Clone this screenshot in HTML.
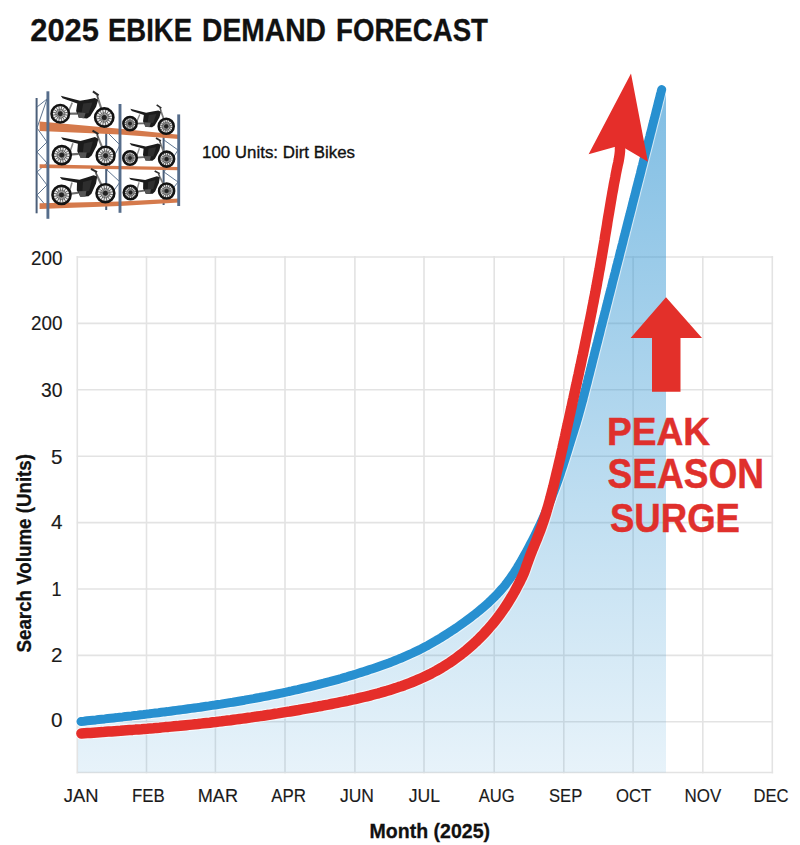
<!DOCTYPE html>
<html><head><meta charset="utf-8"><title>2025 EBIKE DEMAND FORECAST</title>
<style>
html,body{margin:0;padding:0;background:#fff;}
body{width:800px;height:845px;overflow:hidden;position:relative;font-family:"Liberation Sans",sans-serif;}
svg{position:absolute;left:0;top:0;}
text{font-family:"Liberation Sans",sans-serif;}
.yl{font-size:19px;fill:#1a1a1a;}
.xl{font-size:18px;fill:#1a1a1a;}
</style></head>
<body>
<svg width="800" height="845" viewBox="0 0 800 845">
<defs>
<linearGradient id="fg" gradientUnits="userSpaceOnUse" x1="0" y1="88" x2="0" y2="772">
<stop offset="0" stop-color="rgb(40,144,208)" stop-opacity="0.59"/>
<stop offset="1" stop-color="rgb(40,144,208)" stop-opacity="0.11"/>
</linearGradient>
</defs>
<text x="64.62" y="41.20" text-anchor="middle" font-weight="bold" font-size="31.80" fill="#111" stroke="#111" stroke-width="0.30" textLength="68.74" lengthAdjust="spacingAndGlyphs">2025</text>
<text x="150.00" y="41.20" text-anchor="middle" font-weight="bold" font-size="31.80" fill="#111" stroke="#111" stroke-width="0.30" textLength="84.00" lengthAdjust="spacingAndGlyphs">EBIKE</text>
<text x="264.00" y="41.20" text-anchor="middle" font-weight="bold" font-size="31.80" fill="#111" stroke="#111" stroke-width="0.30" textLength="123.99" lengthAdjust="spacingAndGlyphs">DEMAND</text>
<text x="412.00" y="41.20" text-anchor="middle" font-weight="bold" font-size="31.80" fill="#111" stroke="#111" stroke-width="0.30" textLength="152.00" lengthAdjust="spacingAndGlyphs">FORECAST</text>
<g stroke="#4b5f7a" stroke-width="2" stroke-linecap="butt">
<line x1="36.6" y1="98" x2="36.6" y2="213.3"/>
<line x1="106.2" y1="112" x2="106.2" y2="210"/>
<line x1="163.6" y1="120" x2="163.6" y2="205"/>
</g>
<g stroke="#5f7590" stroke-width="1" fill="none">
<polyline points="37,107 47,99 37,128 47,142 37,152 47,163 37,172 47,185 37,195 47,207"/>
<polyline points="107,132 120,145 107,170 120,182 107,200"/>
<polyline points="164,140 178,150 164,172 178,182 164,200"/>
</g>
<polygon points="39.6,121.5 120,128.8 179,134.8 179,139 120,134.5 39.6,131" fill="#d57a4c"/>
<polygon points="39.6,164.3 120,166 179,167 179,170.2 120,169.2 39.6,168" fill="#d57a4c"/>
<polygon points="39.6,203.3 120,201.6 179,198.6 179,202.5 120,206 39.6,209" fill="#d57a4c"/>
<g transform="translate(60.25,113.75) rotate(4.87) scale(1.004)"><path d="M0,0 L17,-1.5" stroke="#6a6a6a" stroke-width="2.2"/><path d="M11,-12 L8,-3" stroke="#8a8a8a" stroke-width="1.6"/><path d="M36.5,-17.5 L44,0" stroke="#7a7a7a" stroke-width="2.1"/><path d="M35,-21.5 L36.5,-17.5" stroke="#555" stroke-width="1.8"/><path d="M30.5,-25 L36.5,-21.5" stroke="#2a2a2a" stroke-width="2"/></g><circle cx="60.25" cy="113.75" r="8.70" fill="#ececec" stroke="#121212" stroke-width="2.6"/><path d="M52.80,112.24L67.70,115.26 M53.95,109.50L66.55,118.00 M56.05,107.42L64.45,120.08 M58.79,106.29L61.71,121.21 M61.76,106.30L58.74,121.20 M64.50,107.45L56.00,120.05 M66.58,109.55L53.92,117.95 M67.71,112.29L52.79,115.21" stroke="#3a3a3a" stroke-width="0.75"/><circle cx="60.25" cy="113.75" r="4.50" fill="none" stroke="#666" stroke-width="0.9"/><circle cx="60.25" cy="113.75" r="2.40" fill="#222"/><circle cx="104.25" cy="117.50" r="9.10" fill="#ececec" stroke="#121212" stroke-width="2.6"/><path d="M96.41,115.91L112.09,119.09 M97.61,113.03L110.89,121.97 M99.83,110.83L108.67,124.17 M102.72,109.65L105.78,125.35 M105.84,109.66L102.66,125.34 M108.72,110.86L99.78,124.14 M110.92,113.08L97.58,121.92 M112.10,115.97L96.40,119.03" stroke="#3a3a3a" stroke-width="0.75"/><circle cx="104.25" cy="117.50" r="4.68" fill="none" stroke="#666" stroke-width="0.9"/><circle cx="104.25" cy="117.50" r="2.50" fill="#222"/><g transform="translate(60.25,113.75) rotate(4.87) scale(1.004)"><path d="M-1,-18 L18.5,-14.5 L26,-16.5 L33,-18.5 L36.5,-17 L35,-10 L30,0 L27,2.5 L19,2.5 L15.5,-4 L16,-11.5 L1,-15.5 Z" fill="#1b1b1b"/><path d="M22,-12 L31,-14 L28,-3 L21,-2 Z" fill="#2e2e2e"/><path d="M17,-3 L25,-3 L24,2.5 L18.5,2.5 Z" fill="#555"/></g>
<g transform="translate(130.00,123.60) rotate(4.27) scale(0.825)"><path d="M0,0 L17,-1.5" stroke="#6a6a6a" stroke-width="2.2"/><path d="M11,-12 L8,-3" stroke="#8a8a8a" stroke-width="1.6"/><path d="M36.5,-17.5 L44,0" stroke="#7a7a7a" stroke-width="2.1"/><path d="M35,-21.5 L36.5,-17.5" stroke="#555" stroke-width="1.8"/><path d="M30.5,-25 L36.5,-21.5" stroke="#2a2a2a" stroke-width="2"/></g><circle cx="130.00" cy="123.60" r="6.60" fill="#ececec" stroke="#121212" stroke-width="2.6"/><path d="M124.61,122.51L135.39,124.69 M125.44,120.53L134.56,126.67 M126.96,119.02L133.04,128.18 M128.95,118.20L131.05,129.00 M131.09,118.21L128.91,128.99 M133.07,119.04L126.93,128.16 M134.58,120.56L125.42,126.64 M135.40,122.55L124.60,124.65" stroke="#3a3a3a" stroke-width="0.75"/><circle cx="130.00" cy="123.60" r="3.56" fill="none" stroke="#666" stroke-width="0.9"/><circle cx="130.00" cy="123.60" r="1.90" fill="#222"/><circle cx="166.20" cy="126.30" r="7.50" fill="#ececec" stroke="#121212" stroke-width="2.6"/><path d="M159.93,125.03L172.47,127.57 M160.89,122.72L171.51,129.88 M162.66,120.97L169.74,131.63 M164.97,120.02L167.43,132.58 M167.47,120.03L164.93,132.57 M169.78,120.99L162.62,131.61 M171.53,122.76L160.87,129.84 M172.48,125.07L159.92,127.53" stroke="#3a3a3a" stroke-width="0.75"/><circle cx="166.20" cy="126.30" r="3.96" fill="none" stroke="#666" stroke-width="0.9"/><circle cx="166.20" cy="126.30" r="2.11" fill="#222"/><g transform="translate(130.00,123.60) rotate(4.27) scale(0.825)"><path d="M-1,-18 L18.5,-14.5 L26,-16.5 L33,-18.5 L36.5,-17 L35,-10 L30,0 L27,2.5 L19,2.5 L15.5,-4 L16,-11.5 L1,-15.5 Z" fill="#1b1b1b"/><path d="M22,-12 L31,-14 L28,-3 L21,-2 Z" fill="#2e2e2e"/><path d="M17,-3 L25,-3 L24,2.5 L18.5,2.5 Z" fill="#555"/></g>
<g transform="translate(61.80,155.10) rotate(0.78) scale(0.996)"><path d="M0,0 L17,-1.5" stroke="#6a6a6a" stroke-width="2.2"/><path d="M11,-12 L8,-3" stroke="#8a8a8a" stroke-width="1.6"/><path d="M36.5,-17.5 L44,0" stroke="#7a7a7a" stroke-width="2.1"/><path d="M35,-21.5 L36.5,-17.5" stroke="#555" stroke-width="1.8"/><path d="M30.5,-25 L36.5,-21.5" stroke="#2a2a2a" stroke-width="2"/></g><circle cx="61.80" cy="155.10" r="9.00" fill="#ececec" stroke="#121212" stroke-width="2.6"/><path d="M54.06,153.53L69.54,156.67 M55.25,150.69L68.35,159.51 M57.44,148.52L66.16,161.68 M60.29,147.35L63.31,162.85 M63.37,147.36L60.23,162.84 M66.21,148.55L57.39,161.65 M68.38,150.74L55.22,159.46 M69.55,153.59L54.05,156.61" stroke="#3a3a3a" stroke-width="0.75"/><circle cx="61.80" cy="155.10" r="4.64" fill="none" stroke="#666" stroke-width="0.9"/><circle cx="61.80" cy="155.10" r="2.47" fill="#222"/><circle cx="105.60" cy="155.70" r="8.90" fill="#ececec" stroke="#121212" stroke-width="2.6"/><path d="M97.96,154.15L113.24,157.25 M99.13,151.34L112.07,160.06 M101.29,149.20L109.91,162.20 M104.11,148.04L107.09,163.36 M107.15,148.06L104.05,163.34 M109.96,149.23L101.24,162.17 M112.10,151.39L99.10,160.01 M113.26,154.21L97.94,157.19" stroke="#3a3a3a" stroke-width="0.75"/><circle cx="105.60" cy="155.70" r="4.59" fill="none" stroke="#666" stroke-width="0.9"/><circle cx="105.60" cy="155.70" r="2.45" fill="#222"/><g transform="translate(61.80,155.10) rotate(0.78) scale(0.996)"><path d="M-1,-18 L18.5,-14.5 L26,-16.5 L33,-18.5 L36.5,-17 L35,-10 L30,0 L27,2.5 L19,2.5 L15.5,-4 L16,-11.5 L1,-15.5 Z" fill="#1b1b1b"/><path d="M22,-12 L31,-14 L28,-3 L21,-2 Z" fill="#2e2e2e"/><path d="M17,-3 L25,-3 L24,2.5 L18.5,2.5 Z" fill="#555"/></g>
<g transform="translate(130.00,158.00) rotate(1.72) scale(0.832)"><path d="M0,0 L17,-1.5" stroke="#6a6a6a" stroke-width="2.2"/><path d="M11,-12 L8,-3" stroke="#8a8a8a" stroke-width="1.6"/><path d="M36.5,-17.5 L44,0" stroke="#7a7a7a" stroke-width="2.1"/><path d="M35,-21.5 L36.5,-17.5" stroke="#555" stroke-width="1.8"/><path d="M30.5,-25 L36.5,-21.5" stroke="#2a2a2a" stroke-width="2"/></g><circle cx="130.00" cy="158.00" r="6.70" fill="#ececec" stroke="#121212" stroke-width="2.6"/><path d="M124.51,156.89L135.49,159.11 M125.36,154.87L134.64,161.13 M126.91,153.33L133.09,162.67 M128.93,152.50L131.07,163.50 M131.11,152.51L128.89,163.49 M133.13,153.36L126.87,162.64 M134.67,154.91L125.33,161.09 M135.50,156.93L124.50,159.07" stroke="#3a3a3a" stroke-width="0.75"/><circle cx="130.00" cy="158.00" r="3.60" fill="none" stroke="#666" stroke-width="0.9"/><circle cx="130.00" cy="158.00" r="1.92" fill="#222"/><circle cx="166.60" cy="159.10" r="7.50" fill="#ececec" stroke="#121212" stroke-width="2.6"/><path d="M160.33,157.83L172.87,160.37 M161.29,155.52L171.91,162.68 M163.06,153.77L170.14,164.43 M165.37,152.82L167.83,165.38 M167.87,152.83L165.33,165.37 M170.18,153.79L163.02,164.41 M171.93,155.56L161.27,162.64 M172.88,157.87L160.32,160.33" stroke="#3a3a3a" stroke-width="0.75"/><circle cx="166.60" cy="159.10" r="3.96" fill="none" stroke="#666" stroke-width="0.9"/><circle cx="166.60" cy="159.10" r="2.11" fill="#222"/><g transform="translate(130.00,158.00) rotate(1.72) scale(0.832)"><path d="M-1,-18 L18.5,-14.5 L26,-16.5 L33,-18.5 L36.5,-17 L35,-10 L30,0 L27,2.5 L19,2.5 L15.5,-4 L16,-11.5 L1,-15.5 Z" fill="#1b1b1b"/><path d="M22,-12 L31,-14 L28,-3 L21,-2 Z" fill="#2e2e2e"/><path d="M17,-3 L25,-3 L24,2.5 L18.5,2.5 Z" fill="#555"/></g>
<g transform="translate(61.50,194.90) rotate(-2.22) scale(0.998)"><path d="M0,0 L17,-1.5" stroke="#6a6a6a" stroke-width="2.2"/><path d="M11,-12 L8,-3" stroke="#8a8a8a" stroke-width="1.6"/><path d="M36.5,-17.5 L44,0" stroke="#7a7a7a" stroke-width="2.1"/><path d="M35,-21.5 L36.5,-17.5" stroke="#555" stroke-width="1.8"/><path d="M30.5,-25 L36.5,-21.5" stroke="#2a2a2a" stroke-width="2"/></g><circle cx="61.50" cy="194.90" r="9.00" fill="#ececec" stroke="#121212" stroke-width="2.6"/><path d="M53.76,193.33L69.24,196.47 M54.95,190.49L68.05,199.31 M57.14,188.32L65.86,201.48 M59.99,187.15L63.01,202.65 M63.07,187.16L59.93,202.64 M65.91,188.35L57.09,201.45 M68.08,190.54L54.92,199.26 M69.25,193.39L53.75,196.41" stroke="#3a3a3a" stroke-width="0.75"/><circle cx="61.50" cy="194.90" r="4.64" fill="none" stroke="#666" stroke-width="0.9"/><circle cx="61.50" cy="194.90" r="2.47" fill="#222"/><circle cx="105.40" cy="193.20" r="8.90" fill="#ececec" stroke="#121212" stroke-width="2.6"/><path d="M97.76,191.65L113.04,194.75 M98.93,188.84L111.87,197.56 M101.09,186.70L109.71,199.70 M103.91,185.54L106.89,200.86 M106.95,185.56L103.85,200.84 M109.76,186.73L101.04,199.67 M111.90,188.89L98.90,197.51 M113.06,191.71L97.74,194.69" stroke="#3a3a3a" stroke-width="0.75"/><circle cx="105.40" cy="193.20" r="4.59" fill="none" stroke="#666" stroke-width="0.9"/><circle cx="105.40" cy="193.20" r="2.45" fill="#222"/><g transform="translate(61.50,194.90) rotate(-2.22) scale(0.998)"><path d="M-1,-18 L18.5,-14.5 L26,-16.5 L33,-18.5 L36.5,-17 L35,-10 L30,0 L27,2.5 L19,2.5 L15.5,-4 L16,-11.5 L1,-15.5 Z" fill="#1b1b1b"/><path d="M22,-12 L31,-14 L28,-3 L21,-2 Z" fill="#2e2e2e"/><path d="M17,-3 L25,-3 L24,2.5 L18.5,2.5 Z" fill="#555"/></g>
<g transform="translate(130.50,192.50) rotate(-2.38) scale(0.821)"><path d="M0,0 L17,-1.5" stroke="#6a6a6a" stroke-width="2.2"/><path d="M11,-12 L8,-3" stroke="#8a8a8a" stroke-width="1.6"/><path d="M36.5,-17.5 L44,0" stroke="#7a7a7a" stroke-width="2.1"/><path d="M35,-21.5 L36.5,-17.5" stroke="#555" stroke-width="1.8"/><path d="M30.5,-25 L36.5,-21.5" stroke="#2a2a2a" stroke-width="2"/></g><circle cx="130.50" cy="192.50" r="6.70" fill="#ececec" stroke="#121212" stroke-width="2.6"/><path d="M125.01,191.39L135.99,193.61 M125.86,189.37L135.14,195.63 M127.41,187.83L133.59,197.17 M129.43,187.00L131.57,198.00 M131.61,187.01L129.39,197.99 M133.63,187.86L127.37,197.14 M135.17,189.41L125.83,195.59 M136.00,191.43L125.00,193.57" stroke="#3a3a3a" stroke-width="0.75"/><circle cx="130.50" cy="192.50" r="3.60" fill="none" stroke="#666" stroke-width="0.9"/><circle cx="130.50" cy="192.50" r="1.92" fill="#222"/><circle cx="166.60" cy="191.00" r="7.50" fill="#ececec" stroke="#121212" stroke-width="2.6"/><path d="M160.33,189.73L172.87,192.27 M161.29,187.42L171.91,194.58 M163.06,185.67L170.14,196.33 M165.37,184.72L167.83,197.28 M167.87,184.73L165.33,197.27 M170.18,185.69L163.02,196.31 M171.93,187.46L161.27,194.54 M172.88,189.77L160.32,192.23" stroke="#3a3a3a" stroke-width="0.75"/><circle cx="166.60" cy="191.00" r="3.96" fill="none" stroke="#666" stroke-width="0.9"/><circle cx="166.60" cy="191.00" r="2.11" fill="#222"/><g transform="translate(130.50,192.50) rotate(-2.38) scale(0.821)"><path d="M-1,-18 L18.5,-14.5 L26,-16.5 L33,-18.5 L36.5,-17 L35,-10 L30,0 L27,2.5 L19,2.5 L15.5,-4 L16,-11.5 L1,-15.5 Z" fill="#1b1b1b"/><path d="M22,-12 L31,-14 L28,-3 L21,-2 Z" fill="#2e2e2e"/><path d="M17,-3 L25,-3 L24,2.5 L18.5,2.5 Z" fill="#555"/></g>
<g stroke="#566d8b" stroke-width="2.9" stroke-linecap="butt">
<line x1="47.9" y1="91.3" x2="47.9" y2="218.8"/>
<line x1="120" y1="104" x2="120" y2="212.8"/>
<line x1="178.7" y1="114.4" x2="178.7" y2="206"/>
</g>
<text x="278.50" y="158.43" text-anchor="middle" font-weight="normal" font-size="17.05" fill="#111" stroke="#111" stroke-width="0.35" textLength="152.99" lengthAdjust="spacingAndGlyphs">100 Units: Dirt Bikes</text>
<g stroke="#e3e3e3" stroke-width="1.6" fill="none">
<path d="M77.3,256.1V773.4 M146.5,256.1V773.4 M215.4,256.1V773.4 M285.0,256.1V773.4 M354.9,256.1V773.4 M424.0,256.1V773.4 M494.2,256.1V773.4 M563.8,256.1V773.4 M633.1,256.1V773.4 M702.8,256.1V773.4 M772.3,256.1V773.4 M76.4,257.0H773.2 M76.4,323.4H773.2 M76.4,389.8H773.2 M76.4,456.2H773.2 M76.4,522.6H773.2 M76.4,589.0H773.2 M76.4,655.4H773.2 M76.4,721.8H773.2 M76.4,772.5H773.2"/>
</g>
<path d="M81.0,721.5 L84.0,721.2 L86.9,720.8 L89.9,720.5 L92.9,720.2 L95.9,719.9 L98.8,719.5 L101.8,719.2 L104.8,718.9 L107.8,718.5 L110.7,718.2 L113.7,717.9 L116.7,717.6 L119.7,717.2 L122.7,716.9 L125.6,716.5 L128.6,716.2 L131.6,715.9 L134.6,715.5 L137.6,715.2 L140.6,714.8 L143.5,714.5 L146.5,714.1 L149.5,713.8 L152.5,713.4 L155.5,713.0 L158.4,712.7 L161.4,712.3 L164.4,711.9 L167.4,711.6 L170.4,711.2 L173.3,710.8 L176.3,710.4 L179.3,710.0 L182.3,709.6 L185.3,709.2 L188.2,708.8 L191.2,708.4 L194.2,708.0 L197.2,707.6 L200.1,707.2 L203.1,706.7 L206.1,706.3 L209.1,705.9 L212.0,705.4 L215.0,705.0 L218.0,704.5 L220.9,704.1 L223.9,703.6 L226.9,703.1 L229.8,702.6 L232.8,702.2 L235.8,701.7 L238.7,701.2 L241.7,700.7 L244.6,700.2 L247.6,699.6 L250.6,699.1 L253.5,698.6 L256.5,698.0 L259.4,697.5 L262.4,696.9 L265.3,696.4 L268.2,695.8 L271.2,695.2 L274.1,694.6 L277.1,694.0 L280.0,693.4 L282.9,692.8 L285.9,692.2 L288.8,691.5 L291.7,690.9 L294.7,690.2 L297.6,689.6 L300.5,688.9 L303.4,688.2 L306.3,687.5 L309.3,686.8 L312.2,686.1 L315.1,685.4 L318.0,684.7 L320.9,683.9 L323.8,683.2 L326.7,682.4 L329.6,681.7 L332.5,680.9 L335.4,680.1 L338.3,679.3 L341.1,678.5 L344.0,677.6 L346.9,676.8 L349.8,675.9 L352.6,675.1 L355.5,674.2 L358.4,673.3 L361.2,672.4 L364.1,671.5 L366.9,670.6 L369.8,669.6 L372.6,668.7 L375.5,667.7 L378.3,666.7 L381.1,665.7 L383.9,664.7 L386.8,663.7 L389.6,662.7 L392.4,661.6 L395.1,660.5 L397.9,659.4 L400.7,658.3 L403.4,657.1 L406.2,655.9 L408.9,654.7 L411.6,653.5 L414.4,652.2 L417.1,650.9 L419.8,649.6 L422.4,648.2 L425.1,646.8 L427.8,645.4 L430.4,643.9 L433.0,642.4 L435.6,640.9 L438.2,639.3 L440.8,637.8 L443.4,636.2 L445.9,634.6 L448.4,633.0 L450.9,631.4 L453.4,629.7 L455.9,628.1 L458.4,626.4 L460.8,624.7 L463.3,622.9 L465.7,621.2 L468.1,619.4 L470.5,617.6 L472.8,615.8 L475.2,614.0 L477.5,612.1 L479.8,610.2 L482.1,608.3 L484.4,606.3 L486.7,604.3 L488.9,602.3 L491.1,600.2 L493.3,598.1 L495.4,596.0 L497.5,593.8 L499.5,591.6 L501.5,589.4 L503.5,587.1 L505.4,584.8 L507.2,582.4 L509.0,580.0 L510.7,577.6 L512.4,575.2 L514.1,572.7 L515.7,570.1 L517.3,567.6 L518.8,565.0 L520.4,562.4 L521.9,559.8 L523.3,557.2 L524.8,554.6 L526.3,551.9 L527.7,549.2 L529.1,546.6 L530.5,543.9 L531.9,541.2 L533.3,538.5 L534.7,535.8 L536.0,533.1 L537.3,530.4 L538.6,527.7 L539.9,525.0 L541.2,522.3 L542.4,519.5 L543.6,516.8 L544.8,514.1 L546.0,511.3 L547.2,508.6 L548.3,505.8 L549.4,503.0 L550.6,500.3 L551.7,497.5 L552.7,494.7 L553.8,491.9 L554.8,489.1 L555.9,486.3 L556.9,483.5 L557.9,480.7 L558.9,477.9 L559.9,475.1 L560.8,472.2 L561.7,469.4 L562.7,466.6 L563.6,463.7 L564.5,460.9 L565.4,458.1 L566.3,455.2 L567.2,452.4 L568.1,449.5 L568.9,446.7 L569.8,443.8 L570.7,440.9 L571.6,438.1 L572.5,435.2 L573.4,432.3 L574.3,429.4 L575.2,426.6 L576.1,423.7 L576.9,420.8 L577.8,417.9 L578.6,415.0 L579.4,412.1 L580.2,409.2 L581.0,406.3 L581.8,403.4 L582.6,400.6 L583.3,397.7 L584.1,394.7 L584.8,391.8 L585.6,388.9 L586.3,386.0 L587.1,383.1 L587.8,380.2 L588.5,377.3 L589.3,374.4 L590.0,371.5 L590.7,368.6 L591.5,365.7 L592.2,362.8 L592.9,359.9 L593.7,356.9 L594.4,354.0 L595.1,351.1 L595.9,348.2 L596.6,345.3 L597.4,342.4 L598.1,339.5 L598.8,336.6 L599.6,333.7 L600.3,330.8 L601.0,327.8 L601.8,324.9 L602.5,322.0 L603.2,319.1 L604.0,316.2 L604.7,313.3 L605.5,310.4 L606.2,307.5 L606.9,304.6 L607.7,301.7 L608.4,298.8 L609.1,295.9 L609.9,293.0 L610.6,290.1 L611.4,287.1 L612.1,284.2 L612.8,281.3 L613.6,278.4 L614.3,275.5 L615.1,272.6 L615.8,269.7 L616.5,266.8 L617.3,263.9 L618.0,261.0 L618.8,258.1 L619.5,255.2 L620.2,252.3 L621.0,249.4 L621.7,246.5 L622.5,243.6 L623.2,240.7 L623.9,237.8 L624.7,234.9 L625.4,231.9 L626.2,229.0 L626.9,226.1 L627.6,223.2 L628.4,220.3 L629.1,217.4 L629.9,214.5 L630.6,211.6 L631.4,208.7 L632.1,205.8 L632.8,202.9 L633.6,200.0 L634.3,197.1 L635.1,194.2 L635.8,191.3 L636.5,188.4 L637.3,185.5 L638.0,182.6 L638.8,179.7 L639.5,176.8 L640.3,173.8 L641.0,170.9 L641.7,168.0 L642.5,165.1 L643.2,162.2 L644.0,159.3 L644.7,156.4 L645.4,153.5 L646.2,150.6 L646.9,147.7 L647.7,144.8 L648.4,141.9 L649.1,139.0 L649.9,136.1 L650.6,133.1 L651.4,130.2 L652.1,127.3 L652.8,124.4 L653.6,121.5 L654.3,118.6 L655.1,115.7 L655.8,112.8 L656.5,109.9 L657.3,107.0 L658.0,104.1 L658.7,101.1 L659.5,98.2 L660.2,95.3 L661.0,92.4 L661.7,89.5 L666,95 L666,772.5 L78,772.5 L78,721.5 Z" fill="url(#fg)"/>
<text x="46.75" y="264.78" text-anchor="middle" font-weight="normal" font-size="19.80" fill="#1a1a1a" stroke="#1a1a1a" stroke-width="0.15" textLength="31.51" lengthAdjust="spacingAndGlyphs">200</text>
<text x="46.75" y="330.43" text-anchor="middle" font-weight="normal" font-size="19.80" fill="#1a1a1a" stroke="#1a1a1a" stroke-width="0.15" textLength="31.51" lengthAdjust="spacingAndGlyphs">200</text>
<text x="51.75" y="396.68" text-anchor="middle" font-weight="normal" font-size="19.80" fill="#1a1a1a" stroke="#1a1a1a" stroke-width="0.15" textLength="21.51" lengthAdjust="spacingAndGlyphs">30</text>
<text x="56.75" y="463.58" text-anchor="middle" font-weight="normal" font-size="19.80" fill="#1a1a1a" stroke="#1a1a1a" stroke-width="0.15" textLength="11.50" lengthAdjust="spacingAndGlyphs">5</text>
<text x="56.75" y="529.48" text-anchor="middle" font-weight="normal" font-size="19.80" fill="#1a1a1a" stroke="#1a1a1a" stroke-width="0.15" textLength="11.50" lengthAdjust="spacingAndGlyphs">4</text>
<text x="56.50" y="595.58" text-anchor="middle" font-weight="normal" font-size="19.80" fill="#1a1a1a" stroke="#1a1a1a" stroke-width="0.15" textLength="10.00" lengthAdjust="spacingAndGlyphs">1</text>
<text x="56.75" y="661.78" text-anchor="middle" font-weight="normal" font-size="19.80" fill="#1a1a1a" stroke="#1a1a1a" stroke-width="0.15" textLength="11.50" lengthAdjust="spacingAndGlyphs">2</text>
<text x="56.75" y="727.38" text-anchor="middle" font-weight="normal" font-size="19.80" fill="#1a1a1a" stroke="#1a1a1a" stroke-width="0.15" textLength="11.50" lengthAdjust="spacingAndGlyphs">0</text>
<text x="81.12" y="802.40" text-anchor="middle" font-weight="normal" font-size="18.60" fill="#1a1a1a" stroke="#1a1a1a" stroke-width="0.15" textLength="34.75" lengthAdjust="spacingAndGlyphs">JAN</text>
<text x="148.38" y="802.40" text-anchor="middle" font-weight="normal" font-size="18.60" fill="#1a1a1a" stroke="#1a1a1a" stroke-width="0.15" textLength="32.75" lengthAdjust="spacingAndGlyphs">FEB</text>
<text x="217.88" y="802.40" text-anchor="middle" font-weight="normal" font-size="18.60" fill="#1a1a1a" stroke="#1a1a1a" stroke-width="0.15" textLength="40.25" lengthAdjust="spacingAndGlyphs">MAR</text>
<text x="288.62" y="802.40" text-anchor="middle" font-weight="normal" font-size="18.60" fill="#1a1a1a" stroke="#1a1a1a" stroke-width="0.15" textLength="34.75" lengthAdjust="spacingAndGlyphs">APR</text>
<text x="357.00" y="802.40" text-anchor="middle" font-weight="normal" font-size="18.60" fill="#1a1a1a" stroke="#1a1a1a" stroke-width="0.15" textLength="34.01" lengthAdjust="spacingAndGlyphs">JUN</text>
<text x="424.38" y="802.40" text-anchor="middle" font-weight="normal" font-size="18.60" fill="#1a1a1a" stroke="#1a1a1a" stroke-width="0.15" textLength="31.26" lengthAdjust="spacingAndGlyphs">JUL</text>
<text x="496.75" y="802.40" text-anchor="middle" font-weight="normal" font-size="18.60" fill="#1a1a1a" stroke="#1a1a1a" stroke-width="0.15" textLength="36.00" lengthAdjust="spacingAndGlyphs">AUG</text>
<text x="565.62" y="802.40" text-anchor="middle" font-weight="normal" font-size="18.60" fill="#1a1a1a" stroke="#1a1a1a" stroke-width="0.15" textLength="33.25" lengthAdjust="spacingAndGlyphs">SEP</text>
<text x="633.62" y="802.40" text-anchor="middle" font-weight="normal" font-size="18.60" fill="#1a1a1a" stroke="#1a1a1a" stroke-width="0.15" textLength="35.25" lengthAdjust="spacingAndGlyphs">OCT</text>
<text x="702.88" y="802.40" text-anchor="middle" font-weight="normal" font-size="18.60" fill="#1a1a1a" stroke="#1a1a1a" stroke-width="0.15" textLength="36.75" lengthAdjust="spacingAndGlyphs">NOV</text>
<text x="771.00" y="802.40" text-anchor="middle" font-weight="normal" font-size="18.60" fill="#1a1a1a" stroke="#1a1a1a" stroke-width="0.15" textLength="35.01" lengthAdjust="spacingAndGlyphs">DEC</text>
<text transform="translate(31.30,553.25) rotate(-90)" text-anchor="middle" font-weight="bold" font-size="19.39" fill="#111" stroke="#111" stroke-width="0.30" textLength="198.50" lengthAdjust="spacingAndGlyphs">Search Volume (Units)</text>
<text x="429.75" y="838.10" text-anchor="middle" font-weight="bold" font-size="19.93" fill="#111" stroke="#111" stroke-width="0.30" textLength="120.50" lengthAdjust="spacingAndGlyphs">Month (2025)</text>
<path d="M81.0,721.5 L84.0,721.2 L86.9,720.8 L89.9,720.5 L92.9,720.2 L95.9,719.9 L98.8,719.5 L101.8,719.2 L104.8,718.9 L107.8,718.5 L110.7,718.2 L113.7,717.9 L116.7,717.6 L119.7,717.2 L122.7,716.9 L125.6,716.5 L128.6,716.2 L131.6,715.9 L134.6,715.5 L137.6,715.2 L140.6,714.8 L143.5,714.5 L146.5,714.1 L149.5,713.8 L152.5,713.4 L155.5,713.0 L158.4,712.7 L161.4,712.3 L164.4,711.9 L167.4,711.6 L170.4,711.2 L173.3,710.8 L176.3,710.4 L179.3,710.0 L182.3,709.6 L185.3,709.2 L188.2,708.8 L191.2,708.4 L194.2,708.0 L197.2,707.6 L200.1,707.2 L203.1,706.7 L206.1,706.3 L209.1,705.9 L212.0,705.4 L215.0,705.0 L218.0,704.5 L220.9,704.1 L223.9,703.6 L226.9,703.1 L229.8,702.6 L232.8,702.2 L235.8,701.7 L238.7,701.2 L241.7,700.7 L244.6,700.2 L247.6,699.6 L250.6,699.1 L253.5,698.6 L256.5,698.0 L259.4,697.5 L262.4,696.9 L265.3,696.4 L268.2,695.8 L271.2,695.2 L274.1,694.6 L277.1,694.0 L280.0,693.4 L282.9,692.8 L285.9,692.2 L288.8,691.5 L291.7,690.9 L294.7,690.2 L297.6,689.6 L300.5,688.9 L303.4,688.2 L306.3,687.5 L309.3,686.8 L312.2,686.1 L315.1,685.4 L318.0,684.7 L320.9,683.9 L323.8,683.2 L326.7,682.4 L329.6,681.7 L332.5,680.9 L335.4,680.1 L338.3,679.3 L341.1,678.5 L344.0,677.6 L346.9,676.8 L349.8,675.9 L352.6,675.1 L355.5,674.2 L358.4,673.3 L361.2,672.4 L364.1,671.5 L366.9,670.6 L369.8,669.6 L372.6,668.7 L375.5,667.7 L378.3,666.7 L381.1,665.7 L383.9,664.7 L386.8,663.7 L389.6,662.7 L392.4,661.6 L395.1,660.5 L397.9,659.4 L400.7,658.3 L403.4,657.1 L406.2,655.9 L408.9,654.7 L411.6,653.5 L414.4,652.2 L417.1,650.9 L419.8,649.6 L422.4,648.2 L425.1,646.8 L427.8,645.4 L430.4,643.9 L433.0,642.4 L435.6,640.9 L438.2,639.3 L440.8,637.8 L443.4,636.2 L445.9,634.6 L448.4,633.0 L450.9,631.4 L453.4,629.7 L455.9,628.1 L458.4,626.4 L460.8,624.7 L463.3,622.9 L465.7,621.2 L468.1,619.4 L470.5,617.6 L472.8,615.8 L475.2,614.0 L477.5,612.1 L479.8,610.2 L482.1,608.3 L484.4,606.3 L486.7,604.3 L488.9,602.3 L491.1,600.2 L493.3,598.1 L495.4,596.0 L497.5,593.8 L499.5,591.6 L501.5,589.4 L503.5,587.1 L505.4,584.8 L507.2,582.4 L509.0,580.0 L510.7,577.6 L512.4,575.2 L514.1,572.7 L515.7,570.1 L517.3,567.6 L518.8,565.0 L520.4,562.4 L521.9,559.8 L523.3,557.2 L524.8,554.6 L526.3,551.9 L527.7,549.2 L529.1,546.6 L530.5,543.9 L531.9,541.2 L533.3,538.5 L534.7,535.8 L536.0,533.1 L537.3,530.4 L538.6,527.7 L539.9,525.0 L541.2,522.3 L542.4,519.5 L543.6,516.8 L544.8,514.1 L546.0,511.3 L547.2,508.6 L548.3,505.8 L549.4,503.0 L550.6,500.3 L551.7,497.5 L552.7,494.7 L553.8,491.9 L554.8,489.1 L555.9,486.3 L556.9,483.5 L557.9,480.7 L558.9,477.9 L559.9,475.1 L560.8,472.2 L561.7,469.4 L562.7,466.6 L563.6,463.7 L564.5,460.9 L565.4,458.1 L566.3,455.2 L567.2,452.4 L568.1,449.5 L568.9,446.7 L569.8,443.8 L570.7,440.9 L571.6,438.1 L572.5,435.2 L573.4,432.3 L574.3,429.4 L575.2,426.6 L576.1,423.7 L576.9,420.8 L577.8,417.9 L578.6,415.0 L579.4,412.1 L580.2,409.2 L581.0,406.3 L581.8,403.4 L582.6,400.6 L583.3,397.7 L584.1,394.7 L584.8,391.8 L585.6,388.9 L586.3,386.0 L587.1,383.1 L587.8,380.2 L588.5,377.3 L589.3,374.4 L590.0,371.5 L590.7,368.6 L591.5,365.7 L592.2,362.8 L592.9,359.9 L593.7,356.9 L594.4,354.0 L595.1,351.1 L595.9,348.2 L596.6,345.3 L597.4,342.4 L598.1,339.5 L598.8,336.6 L599.6,333.7 L600.3,330.8 L601.0,327.8 L601.8,324.9 L602.5,322.0 L603.2,319.1 L604.0,316.2 L604.7,313.3 L605.5,310.4 L606.2,307.5 L606.9,304.6 L607.7,301.7 L608.4,298.8 L609.1,295.9 L609.9,293.0 L610.6,290.1 L611.4,287.1 L612.1,284.2 L612.8,281.3 L613.6,278.4 L614.3,275.5 L615.1,272.6 L615.8,269.7 L616.5,266.8 L617.3,263.9 L618.0,261.0 L618.8,258.1 L619.5,255.2 L620.2,252.3 L621.0,249.4 L621.7,246.5 L622.5,243.6 L623.2,240.7 L623.9,237.8 L624.7,234.9 L625.4,231.9 L626.2,229.0 L626.9,226.1 L627.6,223.2 L628.4,220.3 L629.1,217.4 L629.9,214.5 L630.6,211.6 L631.4,208.7 L632.1,205.8 L632.8,202.9 L633.6,200.0 L634.3,197.1 L635.1,194.2 L635.8,191.3 L636.5,188.4 L637.3,185.5 L638.0,182.6 L638.8,179.7 L639.5,176.8 L640.3,173.8 L641.0,170.9 L641.7,168.0 L642.5,165.1 L643.2,162.2 L644.0,159.3 L644.7,156.4 L645.4,153.5 L646.2,150.6 L646.9,147.7 L647.7,144.8 L648.4,141.9 L649.1,139.0 L649.9,136.1 L650.6,133.1 L651.4,130.2 L652.1,127.3 L652.8,124.4 L653.6,121.5 L654.3,118.6 L655.1,115.7 L655.8,112.8 L656.5,109.9 L657.3,107.0 L658.0,104.1 L658.7,101.1 L659.5,98.2 L660.2,95.3 L661.0,92.4 L661.7,89.5" fill="none" stroke="#fff" stroke-opacity="0.6" stroke-width="11.2" stroke-linecap="round" stroke-linejoin="round"/>
<path d="M81.4,733.5 L84.4,733.3 L87.4,733.1 L90.5,732.9 L93.5,732.7 L96.5,732.5 L99.5,732.3 L102.5,732.1 L105.5,731.8 L108.5,731.6 L111.5,731.4 L114.5,731.2 L117.5,731.0 L120.5,730.8 L123.5,730.5 L126.5,730.3 L129.5,730.1 L132.5,729.9 L135.5,729.6 L138.5,729.4 L141.5,729.2 L144.5,728.9 L147.4,728.7 L150.4,728.4 L153.4,728.2 L156.4,727.9 L159.4,727.7 L162.3,727.4 L165.3,727.1 L168.3,726.9 L171.3,726.6 L174.2,726.3 L177.2,726.1 L180.2,725.8 L183.2,725.5 L186.1,725.2 L189.1,724.9 L192.1,724.6 L195.0,724.3 L198.0,724.0 L201.0,723.6 L203.9,723.3 L206.9,723.0 L209.9,722.7 L212.8,722.3 L215.8,722.0 L218.7,721.6 L221.7,721.3 L224.7,720.9 L227.6,720.5 L230.6,720.2 L233.5,719.8 L236.5,719.4 L239.5,719.0 L242.4,718.6 L245.4,718.2 L248.3,717.8 L251.3,717.4 L254.3,716.9 L257.2,716.5 L260.2,716.1 L263.1,715.7 L266.1,715.2 L269.1,714.8 L272.0,714.3 L275.0,713.8 L278.0,713.4 L280.9,712.9 L283.9,712.4 L286.8,711.9 L289.8,711.5 L292.8,711.0 L295.7,710.5 L298.7,710.0 L301.7,709.4 L304.6,708.9 L307.6,708.4 L310.6,707.9 L313.5,707.3 L316.5,706.8 L319.5,706.2 L322.5,705.7 L325.4,705.1 L328.4,704.6 L331.4,704.0 L334.4,703.4 L337.3,702.8 L340.3,702.2 L343.3,701.6 L346.2,701.0 L349.2,700.4 L352.1,699.7 L355.1,699.1 L358.0,698.4 L361.0,697.7 L363.9,697.0 L366.9,696.3 L369.8,695.6 L372.7,694.8 L375.6,694.0 L378.5,693.3 L381.4,692.4 L384.3,691.6 L387.2,690.8 L390.0,689.9 L392.9,689.0 L395.7,688.1 L398.5,687.1 L401.4,686.2 L404.2,685.2 L407.0,684.1 L409.7,683.1 L412.5,682.0 L415.2,680.9 L418.0,679.7 L420.7,678.5 L423.4,677.3 L426.1,676.0 L428.7,674.7 L431.4,673.4 L434.0,672.0 L436.6,670.6 L439.2,669.1 L441.8,667.6 L444.4,666.0 L446.9,664.4 L449.4,662.8 L451.9,661.1 L454.4,659.4 L456.8,657.6 L459.2,655.8 L461.6,654.0 L464.0,652.1 L466.3,650.2 L468.6,648.2 L470.9,646.2 L473.2,644.2 L475.4,642.2 L477.6,640.1 L479.7,638.0 L481.9,635.8 L484.0,633.6 L486.0,631.4 L488.0,629.2 L490.0,626.9 L492.0,624.6 L493.9,622.3 L495.8,619.9 L497.7,617.5 L499.5,615.1 L501.2,612.7 L503.0,610.2 L504.7,607.8 L506.3,605.3 L507.9,602.8 L509.5,600.2 L511.1,597.7 L512.6,595.1 L514.1,592.5 L515.5,589.9 L516.9,587.3 L518.3,584.6 L519.7,582.0 L521.0,579.3 L522.3,576.6 L523.5,573.9 L524.6,571.2 L525.6,568.5 L526.5,565.7 L527.5,563.0 L528.5,560.3 L529.5,557.5 L530.5,554.7 L531.6,552.0 L532.7,549.2 L533.9,546.4 L535.0,543.6 L536.2,540.8 L537.3,538.0 L538.4,535.2 L539.5,532.3 L540.6,529.5 L541.6,526.7 L542.6,523.8 L543.6,521.0 L544.5,518.1 L545.4,515.3 L546.3,512.4 L547.1,509.5 L548.0,506.6 L548.8,503.8 L549.6,500.9 L550.4,498.0 L551.1,495.1 L551.9,492.2 L552.6,489.3 L553.4,486.4 L554.1,483.5 L554.8,480.6 L555.5,477.7 L556.2,474.7 L556.9,471.8 L557.6,468.9 L558.3,466.0 L559.0,463.0 L559.7,460.1 L560.4,457.2 L561.0,454.2 L561.7,451.3 L562.4,448.4 L563.0,445.4 L563.7,442.5 L564.3,439.6 L565.0,436.6 L565.6,433.7 L566.3,430.7 L566.9,427.8 L567.6,424.8 L568.2,421.9 L568.9,419.0 L569.5,416.0 L570.2,413.1 L570.8,410.1 L571.5,407.2 L572.1,404.3 L572.7,401.3 L573.4,398.4 L574.0,395.5 L574.7,392.5 L575.3,389.6 L575.9,386.6 L576.6,383.7 L577.2,380.8 L577.8,377.8 L578.5,374.9 L579.1,372.0 L579.7,369.0 L580.4,366.1 L581.0,363.2 L581.6,360.2 L582.2,357.3 L582.9,354.4 L583.5,351.4 L584.1,348.5 L584.7,345.6 L585.3,342.6 L585.9,339.7 L586.5,336.8 L587.1,333.8 L587.7,330.9 L588.3,328.0 L588.9,325.0 L589.5,322.1 L590.1,319.2 L590.7,316.2 L591.3,313.3 L591.9,310.4 L592.4,307.4 L593.0,304.5 L593.6,301.6 L594.1,298.6 L594.7,295.7 L595.3,292.8 L595.8,289.8 L596.4,286.9 L596.9,284.0 L597.4,281.0 L598.0,278.1 L598.5,275.1 L599.0,272.2 L599.6,269.3 L600.1,266.3 L600.6,263.4 L601.1,260.4 L601.6,257.5 L602.1,254.6 L602.6,251.6 L603.1,248.7 L603.6,245.7 L604.1,242.8 L604.6,239.8 L605.0,236.9 L605.5,233.9 L606.0,231.0 L606.5,228.0 L607.0,225.1 L607.4,222.1 L607.9,219.2 L608.4,216.2 L608.9,213.3 L609.4,210.3 L609.9,207.4 L610.4,204.4 L610.9,201.4 L611.4,198.5 L611.9,195.5 L612.4,192.6 L613.0,189.6 L613.5,186.6 L614.0,183.7 L614.6,180.7 L615.2,177.7 L615.7,174.8 L616.3,171.8 L616.9,168.8 L617.5,165.9 L618.2,162.9 L618.8,159.9 L619.3,156.9 L619.7,154.0 L620.0,151.0 L620.0,148.0" fill="none" stroke="#fff" stroke-opacity="0.6" stroke-width="12.8" stroke-linecap="round" stroke-linejoin="round"/>
<path d="M81.0,721.5 L84.0,721.2 L86.9,720.8 L89.9,720.5 L92.9,720.2 L95.9,719.9 L98.8,719.5 L101.8,719.2 L104.8,718.9 L107.8,718.5 L110.7,718.2 L113.7,717.9 L116.7,717.6 L119.7,717.2 L122.7,716.9 L125.6,716.5 L128.6,716.2 L131.6,715.9 L134.6,715.5 L137.6,715.2 L140.6,714.8 L143.5,714.5 L146.5,714.1 L149.5,713.8 L152.5,713.4 L155.5,713.0 L158.4,712.7 L161.4,712.3 L164.4,711.9 L167.4,711.6 L170.4,711.2 L173.3,710.8 L176.3,710.4 L179.3,710.0 L182.3,709.6 L185.3,709.2 L188.2,708.8 L191.2,708.4 L194.2,708.0 L197.2,707.6 L200.1,707.2 L203.1,706.7 L206.1,706.3 L209.1,705.9 L212.0,705.4 L215.0,705.0 L218.0,704.5 L220.9,704.1 L223.9,703.6 L226.9,703.1 L229.8,702.6 L232.8,702.2 L235.8,701.7 L238.7,701.2 L241.7,700.7 L244.6,700.2 L247.6,699.6 L250.6,699.1 L253.5,698.6 L256.5,698.0 L259.4,697.5 L262.4,696.9 L265.3,696.4 L268.2,695.8 L271.2,695.2 L274.1,694.6 L277.1,694.0 L280.0,693.4 L282.9,692.8 L285.9,692.2 L288.8,691.5 L291.7,690.9 L294.7,690.2 L297.6,689.6 L300.5,688.9 L303.4,688.2 L306.3,687.5 L309.3,686.8 L312.2,686.1 L315.1,685.4 L318.0,684.7 L320.9,683.9 L323.8,683.2 L326.7,682.4 L329.6,681.7 L332.5,680.9 L335.4,680.1 L338.3,679.3 L341.1,678.5 L344.0,677.6 L346.9,676.8 L349.8,675.9 L352.6,675.1 L355.5,674.2 L358.4,673.3 L361.2,672.4 L364.1,671.5 L366.9,670.6 L369.8,669.6 L372.6,668.7 L375.5,667.7 L378.3,666.7 L381.1,665.7 L383.9,664.7 L386.8,663.7 L389.6,662.7 L392.4,661.6 L395.1,660.5 L397.9,659.4 L400.7,658.3 L403.4,657.1 L406.2,655.9 L408.9,654.7 L411.6,653.5 L414.4,652.2 L417.1,650.9 L419.8,649.6 L422.4,648.2 L425.1,646.8 L427.8,645.4 L430.4,643.9 L433.0,642.4 L435.6,640.9 L438.2,639.3 L440.8,637.8 L443.4,636.2 L445.9,634.6 L448.4,633.0 L450.9,631.4 L453.4,629.7 L455.9,628.1 L458.4,626.4 L460.8,624.7 L463.3,622.9 L465.7,621.2 L468.1,619.4 L470.5,617.6 L472.8,615.8 L475.2,614.0 L477.5,612.1 L479.8,610.2 L482.1,608.3 L484.4,606.3 L486.7,604.3 L488.9,602.3 L491.1,600.2 L493.3,598.1 L495.4,596.0 L497.5,593.8 L499.5,591.6 L501.5,589.4 L503.5,587.1 L505.4,584.8 L507.2,582.4 L509.0,580.0 L510.7,577.6 L512.4,575.2 L514.1,572.7 L515.7,570.1 L517.3,567.6 L518.8,565.0 L520.4,562.4 L521.9,559.8 L523.3,557.2 L524.8,554.6 L526.3,551.9 L527.7,549.2 L529.1,546.6 L530.5,543.9 L531.9,541.2 L533.3,538.5 L534.7,535.8 L536.0,533.1 L537.3,530.4 L538.6,527.7 L539.9,525.0 L541.2,522.3 L542.4,519.5 L543.6,516.8 L544.8,514.1 L546.0,511.3 L547.2,508.6 L548.3,505.8 L549.4,503.0 L550.6,500.3 L551.7,497.5 L552.7,494.7 L553.8,491.9 L554.8,489.1 L555.9,486.3 L556.9,483.5 L557.9,480.7 L558.9,477.9 L559.9,475.1 L560.8,472.2 L561.7,469.4 L562.7,466.6 L563.6,463.7 L564.5,460.9 L565.4,458.1 L566.3,455.2 L567.2,452.4 L568.1,449.5 L568.9,446.7 L569.8,443.8 L570.7,440.9 L571.6,438.1 L572.5,435.2 L573.4,432.3 L574.3,429.4 L575.2,426.6 L576.1,423.7 L576.9,420.8 L577.8,417.9 L578.6,415.0 L579.4,412.1 L580.2,409.2 L581.0,406.3 L581.8,403.4 L582.6,400.6 L583.3,397.7 L584.1,394.7 L584.8,391.8 L585.6,388.9 L586.3,386.0 L587.1,383.1 L587.8,380.2 L588.5,377.3 L589.3,374.4 L590.0,371.5 L590.7,368.6 L591.5,365.7 L592.2,362.8 L592.9,359.9 L593.7,356.9 L594.4,354.0 L595.1,351.1 L595.9,348.2 L596.6,345.3 L597.4,342.4 L598.1,339.5 L598.8,336.6 L599.6,333.7 L600.3,330.8 L601.0,327.8 L601.8,324.9 L602.5,322.0 L603.2,319.1 L604.0,316.2 L604.7,313.3 L605.5,310.4 L606.2,307.5 L606.9,304.6 L607.7,301.7 L608.4,298.8 L609.1,295.9 L609.9,293.0 L610.6,290.1 L611.4,287.1 L612.1,284.2 L612.8,281.3 L613.6,278.4 L614.3,275.5 L615.1,272.6 L615.8,269.7 L616.5,266.8 L617.3,263.9 L618.0,261.0 L618.8,258.1 L619.5,255.2 L620.2,252.3 L621.0,249.4 L621.7,246.5 L622.5,243.6 L623.2,240.7 L623.9,237.8 L624.7,234.9 L625.4,231.9 L626.2,229.0 L626.9,226.1 L627.6,223.2 L628.4,220.3 L629.1,217.4 L629.9,214.5 L630.6,211.6 L631.4,208.7 L632.1,205.8 L632.8,202.9 L633.6,200.0 L634.3,197.1 L635.1,194.2 L635.8,191.3 L636.5,188.4 L637.3,185.5 L638.0,182.6 L638.8,179.7 L639.5,176.8 L640.3,173.8 L641.0,170.9 L641.7,168.0 L642.5,165.1 L643.2,162.2 L644.0,159.3 L644.7,156.4 L645.4,153.5 L646.2,150.6 L646.9,147.7 L647.7,144.8 L648.4,141.9 L649.1,139.0 L649.9,136.1 L650.6,133.1 L651.4,130.2 L652.1,127.3 L652.8,124.4 L653.6,121.5 L654.3,118.6 L655.1,115.7 L655.8,112.8 L656.5,109.9 L657.3,107.0 L658.0,104.1 L658.7,101.1 L659.5,98.2 L660.2,95.3 L661.0,92.4 L661.7,89.5" fill="none" stroke="#2890d0" stroke-width="9" stroke-linecap="round" stroke-linejoin="round"/>
<path d="M81.4,733.5 L84.4,733.3 L87.4,733.1 L90.5,732.9 L93.5,732.7 L96.5,732.5 L99.5,732.3 L102.5,732.1 L105.5,731.8 L108.5,731.6 L111.5,731.4 L114.5,731.2 L117.5,731.0 L120.5,730.8 L123.5,730.5 L126.5,730.3 L129.5,730.1 L132.5,729.9 L135.5,729.6 L138.5,729.4 L141.5,729.2 L144.5,728.9 L147.4,728.7 L150.4,728.4 L153.4,728.2 L156.4,727.9 L159.4,727.7 L162.3,727.4 L165.3,727.1 L168.3,726.9 L171.3,726.6 L174.2,726.3 L177.2,726.1 L180.2,725.8 L183.2,725.5 L186.1,725.2 L189.1,724.9 L192.1,724.6 L195.0,724.3 L198.0,724.0 L201.0,723.6 L203.9,723.3 L206.9,723.0 L209.9,722.7 L212.8,722.3 L215.8,722.0 L218.7,721.6 L221.7,721.3 L224.7,720.9 L227.6,720.5 L230.6,720.2 L233.5,719.8 L236.5,719.4 L239.5,719.0 L242.4,718.6 L245.4,718.2 L248.3,717.8 L251.3,717.4 L254.3,716.9 L257.2,716.5 L260.2,716.1 L263.1,715.7 L266.1,715.2 L269.1,714.8 L272.0,714.3 L275.0,713.8 L278.0,713.4 L280.9,712.9 L283.9,712.4 L286.8,711.9 L289.8,711.5 L292.8,711.0 L295.7,710.5 L298.7,710.0 L301.7,709.4 L304.6,708.9 L307.6,708.4 L310.6,707.9 L313.5,707.3 L316.5,706.8 L319.5,706.2 L322.5,705.7 L325.4,705.1 L328.4,704.6 L331.4,704.0 L334.4,703.4 L337.3,702.8 L340.3,702.2 L343.3,701.6 L346.2,701.0 L349.2,700.4 L352.1,699.7 L355.1,699.1 L358.0,698.4 L361.0,697.7 L363.9,697.0 L366.9,696.3 L369.8,695.6 L372.7,694.8 L375.6,694.0 L378.5,693.3 L381.4,692.4 L384.3,691.6 L387.2,690.8 L390.0,689.9 L392.9,689.0 L395.7,688.1 L398.5,687.1 L401.4,686.2 L404.2,685.2 L407.0,684.1 L409.7,683.1 L412.5,682.0 L415.2,680.9 L418.0,679.7 L420.7,678.5 L423.4,677.3 L426.1,676.0 L428.7,674.7 L431.4,673.4 L434.0,672.0 L436.6,670.6 L439.2,669.1 L441.8,667.6 L444.4,666.0 L446.9,664.4 L449.4,662.8 L451.9,661.1 L454.4,659.4 L456.8,657.6 L459.2,655.8 L461.6,654.0 L464.0,652.1 L466.3,650.2 L468.6,648.2 L470.9,646.2 L473.2,644.2 L475.4,642.2 L477.6,640.1 L479.7,638.0 L481.9,635.8 L484.0,633.6 L486.0,631.4 L488.0,629.2 L490.0,626.9 L492.0,624.6 L493.9,622.3 L495.8,619.9 L497.7,617.5 L499.5,615.1 L501.2,612.7 L503.0,610.2 L504.7,607.8 L506.3,605.3 L507.9,602.8 L509.5,600.2 L511.1,597.7 L512.6,595.1 L514.1,592.5 L515.5,589.9 L516.9,587.3 L518.3,584.6 L519.7,582.0 L521.0,579.3 L522.3,576.6 L523.5,573.9 L524.6,571.2 L525.6,568.5 L526.5,565.7 L527.5,563.0 L528.5,560.3 L529.5,557.5 L530.5,554.7 L531.6,552.0 L532.7,549.2 L533.9,546.4 L535.0,543.6 L536.2,540.8 L537.3,538.0 L538.4,535.2 L539.5,532.3 L540.6,529.5 L541.6,526.7 L542.6,523.8 L543.6,521.0 L544.5,518.1 L545.4,515.3 L546.3,512.4 L547.1,509.5 L548.0,506.6 L548.8,503.8 L549.6,500.9 L550.4,498.0 L551.1,495.1 L551.9,492.2 L552.6,489.3 L553.4,486.4 L554.1,483.5 L554.8,480.6 L555.5,477.7 L556.2,474.7 L556.9,471.8 L557.6,468.9 L558.3,466.0 L559.0,463.0 L559.7,460.1 L560.4,457.2 L561.0,454.2 L561.7,451.3 L562.4,448.4 L563.0,445.4 L563.7,442.5 L564.3,439.6 L565.0,436.6 L565.6,433.7 L566.3,430.7 L566.9,427.8 L567.6,424.8 L568.2,421.9 L568.9,419.0 L569.5,416.0 L570.2,413.1 L570.8,410.1 L571.5,407.2 L572.1,404.3 L572.7,401.3 L573.4,398.4 L574.0,395.5 L574.7,392.5 L575.3,389.6 L575.9,386.6 L576.6,383.7 L577.2,380.8 L577.8,377.8 L578.5,374.9 L579.1,372.0 L579.7,369.0 L580.4,366.1 L581.0,363.2 L581.6,360.2 L582.2,357.3 L582.9,354.4 L583.5,351.4 L584.1,348.5 L584.7,345.6 L585.3,342.6 L585.9,339.7 L586.5,336.8 L587.1,333.8 L587.7,330.9 L588.3,328.0 L588.9,325.0 L589.5,322.1 L590.1,319.2 L590.7,316.2 L591.3,313.3 L591.9,310.4 L592.4,307.4 L593.0,304.5 L593.6,301.6 L594.1,298.6 L594.7,295.7 L595.3,292.8 L595.8,289.8 L596.4,286.9 L596.9,284.0 L597.4,281.0 L598.0,278.1 L598.5,275.1 L599.0,272.2 L599.6,269.3 L600.1,266.3 L600.6,263.4 L601.1,260.4 L601.6,257.5 L602.1,254.6 L602.6,251.6 L603.1,248.7 L603.6,245.7 L604.1,242.8 L604.6,239.8 L605.0,236.9 L605.5,233.9 L606.0,231.0 L606.5,228.0 L607.0,225.1 L607.4,222.1 L607.9,219.2 L608.4,216.2 L608.9,213.3 L609.4,210.3 L609.9,207.4 L610.4,204.4 L610.9,201.4 L611.4,198.5 L611.9,195.5 L612.4,192.6 L613.0,189.6 L613.5,186.6 L614.0,183.7 L614.6,180.7 L615.2,177.7 L615.7,174.8 L616.3,171.8 L616.9,168.8 L617.5,165.9 L618.2,162.9 L618.8,159.9 L619.3,156.9 L619.7,154.0 L620.0,151.0 L620.0,148.0" fill="none" stroke="#e52e2a" stroke-width="10.5" stroke-linecap="round" stroke-linejoin="round"/>
<polygon points="631,73.6 647.9,161.7 625,148.3 614.5,147.1 588.6,154.3" fill="#e52e2a"/>
<polygon points="666,297.2 702,338 680.5,338 680.5,391.8 652,391.8 652,338 630.6,338" fill="#e3302a"/>
<text x="658.50" y="445.30" text-anchor="middle" font-weight="bold" font-size="39.28" fill="#df302c" stroke="#df302c" stroke-width="0.50" textLength="103.01" lengthAdjust="spacingAndGlyphs">PEAK</text>
<text x="685.75" y="487.90" text-anchor="middle" font-weight="bold" font-size="42.45" fill="#df302c" stroke="#df302c" stroke-width="0.50" textLength="156.51" lengthAdjust="spacingAndGlyphs">SEASON</text>
<text x="675.00" y="531.60" text-anchor="middle" font-weight="bold" font-size="41.01" fill="#df302c" stroke="#df302c" stroke-width="0.50" textLength="130.01" lengthAdjust="spacingAndGlyphs">SURGE</text>
</svg>
</body></html>
